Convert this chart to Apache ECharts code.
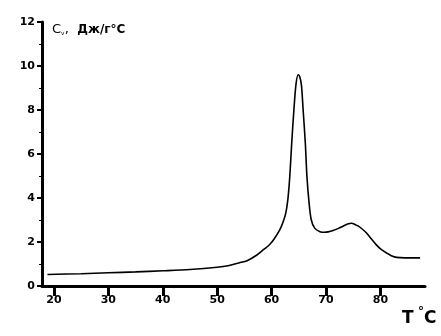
<!DOCTYPE html>
<html><head><meta charset="utf-8">
<script src="https://cdn.jsdelivr.net/npm/echarts@6/dist/echarts.min.js"></script>
<style>html,body{margin:0;padding:0;background:#fff}#c{width:441px;height:336px}</style>
</head><body><div id="c"></div>
<script>
const temps = [18.8,25,30,35,40,45,50,52,54,55.5,57.3,58.5,59.7,60.5,61.5,62.1,62.6,63.0,63.35,63.7,64.1,64.5,64.9,65.2,65.5,65.8,66.2,66.5,66.9,67.3,67.95,68.9,69.7,70.4,71.3,72.3,73.2,74.0,74.7,75.3,75.9,76.7,77.5,78.4,79.3,80.2,81.2,82.0,83.0,84.5,87.3];
const cp = [0.52,0.56,0.6,0.64,0.69,0.75,0.85,0.92,1.05,1.15,1.41,1.65,1.9,2.15,2.55,2.9,3.3,3.95,5.0,6.5,8.0,9.2,9.6,9.5,9.1,8.0,6.5,4.97,3.76,3.0,2.62,2.47,2.44,2.46,2.52,2.62,2.73,2.82,2.85,2.8,2.73,2.58,2.4,2.12,1.86,1.65,1.49,1.38,1.3,1.28,1.28];
const xTicks = [20,30,40,50,60,70,80];
const yTicks = [0,2,4,6,8,10,12];
const yTitle = 'Дж/г°C';
const xTitle = 'T';

const chart = echarts.init(document.getElementById('c'));
const font = 'DejaVu Sans';
chart.setOption({
  animation:false,
  grid:{left:42,top:22,right:16,bottom:50},
  xAxis:{type:'value',min:17.8,max:88.2,
    axisLine:{lineStyle:{color:'#000',width:3}},
    axisTick:{customValues:xTicks,length:10,lineStyle:{color:'#000',width:3}},
    axisLabel:{customValues:xTicks,margin:9,color:'#000',fontFamily:font,fontWeight:'bold',fontSize:11},
    splitLine:{show:false}},
  yAxis:{type:'value',min:0,max:12,interval:2,
    axisLine:{show:true,lineStyle:{color:'#000',width:3}},
    axisTick:{show:true,length:5,lineStyle:{color:'#000',width:2}},
    minorTick:{show:true,splitNumber:2,length:3,lineStyle:{color:'#000',width:1}},
    axisLabel:{margin:7,color:'#000',fontFamily:font,fontWeight:'bold',fontSize:11,formatter:v=>yTicks.includes(v)?String(v):''},
    splitLine:{show:false}},
  graphic:[
    {type:'text',left:52,top:23,style:{text:'{c|C}{s|ᵥ}{c|,}  '+yTitle,fill:'#000',font:'bold 12px DejaVu Sans',
      rich:{c:{fontFamily:font,fontSize:13,fill:'#000'},s:{fontFamily:font,fontSize:9,fill:'#000',padding:[6,0,0,0]}}}},
    {type:'text',left:402,top:310,style:{text:xTitle,fill:'#000',font:'bold 17px DejaVu Sans'}},
    {type:'text',left:418,top:306,style:{text:'°',fill:'#000',font:'bold 12px DejaVu Sans'}},
    {type:'text',left:424,top:310,style:{text:'C',fill:'#000',font:'bold 17px DejaVu Sans'}}
  ],
  series:[{type:'line',data:temps.map((t,i)=>[t,cp[i]]),showSymbol:false,smooth:0.3,
    lineStyle:{color:'#000',width:1.6}}]
});
</script></body></html>
